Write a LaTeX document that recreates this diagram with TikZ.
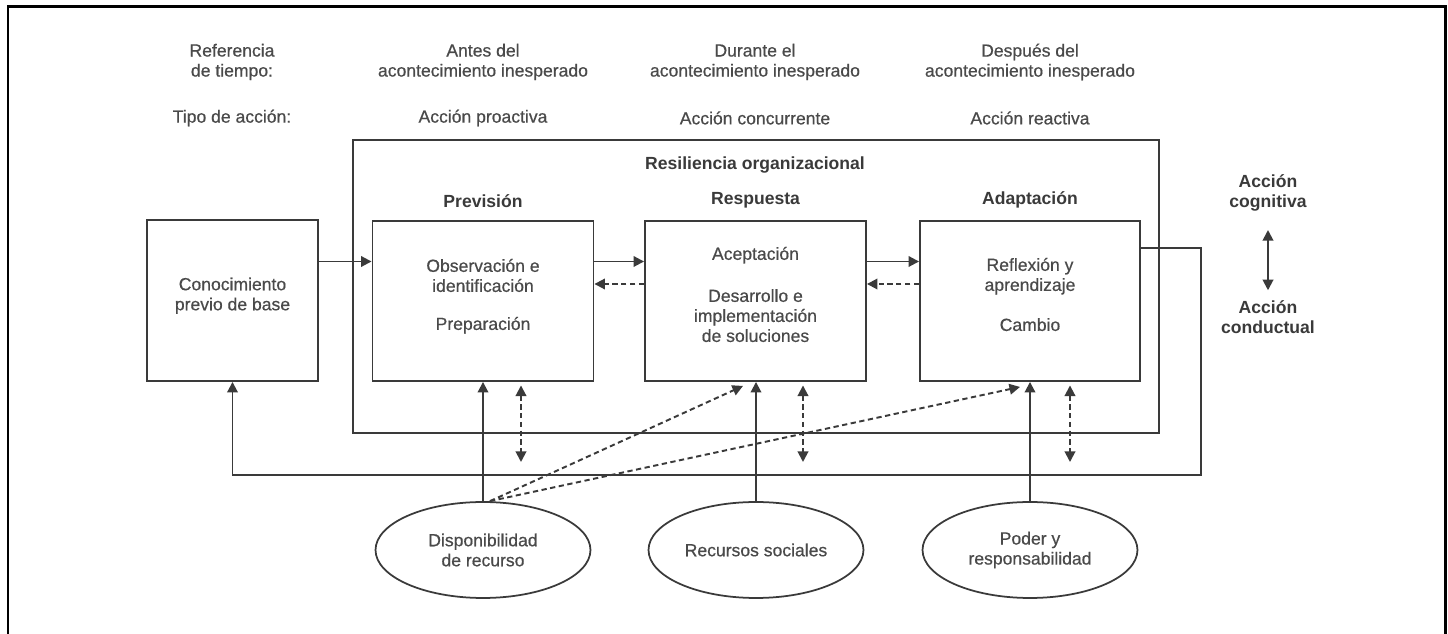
\documentclass[tikz,border=0pt]{standalone}
\usepackage{fontspec}
\setmainfont{Liberation Sans}
\newfontfamily\medfont{Liberation Sans}[FakeBold=0.6]
\usetikzlibrary{positioning,calc,arrows.meta,shapes.geometric}
\definecolor{ink}{HTML}{3A3A3A}
\definecolor{txt}{HTML}{4A4A4A}

\begin{document}
\begin{tikzpicture}[
  x=0.02cm, y=-0.02cm,
  >={Triangle[length=6pt,width=6pt]},
  every node/.style={font=\fontsize{10}{11.4}\selectfont\medfont, text=txt, align=center},
  title/.style={font=\fontsize{10}{11.4}\selectfont\bfseries, text=ink},
  stage/.style={draw=ink, line width=1.1pt, minimum width=4.42cm,
    minimum height=3.2cm, inner sep=0pt, text depth=7.5pt},
  res/.style={draw=ink, line width=1pt, ellipse, minimum width=4.3cm,
    minimum height=1.92cm, inner sep=0pt},
  flow/.style={draw=ink, line width=1.1pt, ->},
  back/.style={flow, dash pattern=on 3pt off 2pt},
  ]
  \useasboundingbox (0,0) rectangle (1448,634);
  \draw [line width=0.06cm] (8,634) -- (8,7) -- (1445,7) -- (1445,634);

  \node (ref-time) at (232,62) {Referencia\\de tiempo:};
  \node (ref-type) at (232,118) {Tipo de acción:};
  \node (pre-time) at (483,62) {Antes del\\acontecimiento inesperado};
  \node (pre-type) at (483,118) {Acción proactiva};
  \node (dur-time) at (755,62) {Durante el\\acontecimiento inesperado};
  \node (dur-type) at (755,118) {Acción concurrente};
  \node (post-time) at (1030,62) {Después del\\acontecimiento inesperado};
  \node (post-type) at (1030,118) {Acción reactiva};

  \node [draw=ink, line width=1pt, minimum width=16.12cm, minimum height=5.86cm,
    inner sep=0pt] (resil) at (756,286.5) {};
  \node [title] (resil-title) at (755,165) {Resiliencia organizacional};

  \node [stage, minimum width=3.42cm, minimum height=3.22cm] (base-box)
    at (232.5,300.5) {Conocimiento\\previo de base};
  \node [stage] (prev-box) at (483,301)
    {Observación e\\identificación\\[0.36cm]Preparación};
  \node [stage] (resp-box) at (755.5,301)
    {Aceptación\\[0.44cm]Desarrollo e\\implementación\\de soluciones};
  \node [stage, minimum width=4.4cm] (adap-box) at (1030,301)
    {Reflexión y\\aprendizaje\\[0.4cm]Cambio};
  \node [title, above=0.12cm of prev-box] (prev-title) {Previsión};
  \node [title, above=0.12cm of resp-box] (resp-title) {Respuesta};
  \node [title, above=0.12cm of adap-box] (adap-title) {Adaptación};

  \node [res] (avail-res) at (483,550) {Disponibilidad\\de recurso};
  \node [res] (social-res) at (756,550) {Recursos sociales};
  \node [res] (power-res) at (1030,550) {Poder y\\responsabilidad};

  \node [title] (cog-act) at (1268,193) {Acción\\cognitiva};
  \node [title] (beh-act) at (1268,317) {Acción\\conductual};
  \draw [flow, <->, shorten <=0.25cm, shorten >=0.08cm] (cog-act) -- (beh-act);

  % lanes between the stages
  \path (prev-box.north west) -- (prev-box.south west)
    coordinate [pos=.256] (hi-lane) coordinate [pos=.395] (lo-lane);
  \draw [flow] (base-box.east |- hi-lane) -- (prev-box.west |- hi-lane);
  \draw [flow] (prev-box.east |- hi-lane) -- (resp-box.west |- hi-lane);
  \draw [back] (resp-box.west |- lo-lane) -- (prev-box.east |- lo-lane);
  \draw [flow] (resp-box.east |- hi-lane) -- (adap-box.west |- hi-lane);
  \draw [back] (adap-box.west |- lo-lane) -- (resp-box.east |- lo-lane);

  % resources
  \draw [flow] (avail-res.north) -- (avail-res.north |- prev-box.south);
  \draw [flow] (social-res.north) -- (social-res.north |- resp-box.south);
  \draw [flow] (power-res.north) -- (power-res.north |- adap-box.south);
  \draw [back] ([xshift=0.14cm]avail-res.north)
    -- ([xshift=-0.25cm,yshift=-0.08cm]resp-box.south);
  \draw [back] ([xshift=0.14cm]avail-res.north)
    -- ([xshift=-0.2cm,yshift=-0.1cm]adap-box.south);

  \coordinate (prev-down) at (521,462);
  \coordinate (resp-down) at (803,462);
  \coordinate (adap-down) at (1070,462);
  \draw [back, <->, shorten <=2pt] (prev-box.south -| prev-down) -- (prev-down);
  \draw [back, <->, shorten <=2pt] (resp-box.south -| resp-down) -- (resp-down);
  \draw [back, <->, shorten <=2pt] (adap-box.south -| adap-down) -- (adap-down);

  % feedback loop
  \coordinate (loop-corner) at (1201,475);
  \draw [flow] ($(adap-box.north east)!.17!(adap-box.south east)$)
    -| (loop-corner) -| (base-box.south);
\end{tikzpicture}
\end{document}
